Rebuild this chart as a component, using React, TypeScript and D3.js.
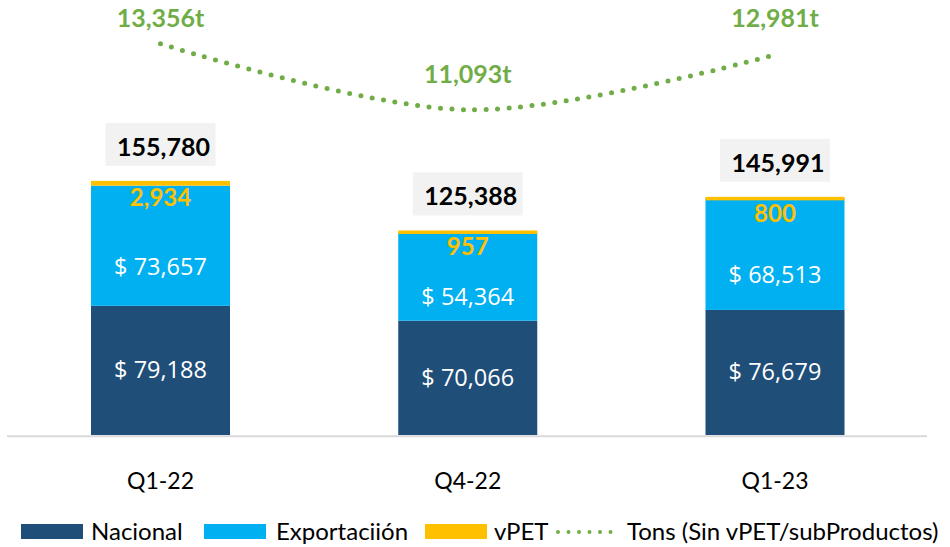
import React from "react";
import * as d3 from "d3";

const categories = ["Q1-22", "Q4-22", "Q1-23"];
const nacional = [79188, 70066, 76679];
const exportacion = [73657, 54364, 68513];
const vpet = [2934, 957, 800];
const totals = [155780, 125388, 145991];
const tons = [13356, 11093, 12981];
const tonsLabels = ["13,356t", "11,093t", "12,981t"];

const W = 950;
const H = 547;
const BASE = 435;
const BAR_W = 139;

const COLORS = {
  nacional: "#1f4e79",
  exportacion: "#00b0f0",
  vpet: "#ffc000",
  tons: "#70ad47",
  axis: "#d9d9d9",
  box: "#f2f2f2",
};

const CAL = "Lato, 'Open Sans', sans-serif";
const SEG = "'Open Sans', 'Noto Sans', sans-serif";

const fmt = d3.format(",");

export default function App() {
  const x = d3.scalePoint<string>().domain(categories).range([160.5, 775]);
  const y = d3.scaleLinear().domain([0, 160000]).range([BASE, 174]);
  const yT = d3.scaleLinear().domain([8000, 14000]).range([200, 25]);

  const line = d3
    .line<number>()
    .x((_, i) => x(categories[i]) as number)
    .y((d) => yT(d))
    .curve(d3.curveCatmullRom.alpha(0.5));

  const tonsDy = [-17, -27, -28];

  const legendItems = [
    { label: "Nacional", color: COLORS.nacional, sx: 21, tx: 91 },
    { label: "Exportaciión", color: COLORS.exportacion, sx: 204, tx: 276 },
    { label: "vPET", color: COLORS.vpet, sx: 425, tx: 494 },
  ];

  return (
    <svg
      width={W}
      height={H}
      style={{ position: "absolute", left: 0, top: 0, background: "#fff" }}
    >
      <rect x={0} y={0} width={W} height={H} fill="#fff" />
      <line x1={7} x2={927} y1={BASE + 1.3} y2={BASE + 1.3} stroke={COLORS.axis} strokeWidth={2} />

      {categories.map((c, i) => {
        const cx = x(c) as number;
        const x0 = cx - BAR_W / 2;
        const yN = y(nacional[i]);
        const yE = y(nacional[i] + exportacion[i]);
        const yV = y(nacional[i] + exportacion[i] + vpet[i]);
        const yTot = y(totals[i]);
        return (
          <g key={c}>
            <rect x={x0} y={yN} width={BAR_W} height={BASE - yN} fill={COLORS.nacional} />
            <rect x={x0} y={yE} width={BAR_W} height={yN - yE} fill={COLORS.exportacion} />
            <rect x={x0} y={yV} width={BAR_W} height={Math.max(yE - yV, 3.5)} fill={COLORS.vpet} />
            <text
              x={cx}
              y={(yN + BASE) / 2 + 8}
              textAnchor="middle"
              fill="#fff"
              fontFamily={SEG}
              fontSize={23.5}
            >
              {"$ " + fmt(nacional[i])}
            </text>
            <text
              x={cx}
              y={(yE + yN) / 2 + 21 + 8}
              textAnchor="middle"
              fill="#fff"
              fontFamily={SEG}
              fontSize={23.5}
            >
              {"$ " + fmt(exportacion[i])}
            </text>
            <text
              x={cx}
              y={yV + 25}
              textAnchor="middle"
              fill={COLORS.vpet}
              fontFamily={CAL}
              fontWeight={700}
              fontSize={24}
            >
              {fmt(vpet[i])}
            </text>
            <rect x={cx - 55} y={yTot - 15 - 43} width={110} height={43} fill={COLORS.box} />
            <text
              x={cx + 3}
              y={yTot - 15 - 10}
              textAnchor="middle"
              fill="#000"
              fontFamily={CAL}
              fontWeight={700}
              fontSize={25}
            >
              {fmt(totals[i])}
            </text>
            <text
              x={cx}
              y={489}
              textAnchor="middle"
              fill="#000"
              fontFamily={CAL}
              fontSize={23}
            >
              {c}
            </text>
          </g>
        );
      })}

      <path
        d={line(tons) || ""}
        fill="none"
        stroke={COLORS.tons}
        strokeWidth={5}
        strokeLinecap="round"
        strokeDasharray="0 11.5"
      />
      {tons.map((v, i) => (
        <text
          key={i}
          x={x(categories[i]) as number}
          y={yT(v) + tonsDy[i]}
          textAnchor="middle"
          fill={COLORS.tons}
          fontFamily={CAL}
          fontWeight={700}
          fontSize={25}
        >
          {tonsLabels[i]}
        </text>
      ))}

      {legendItems.map((it) => (
        <g key={it.label}>
          <rect x={it.sx} y={524} width={62} height={15} fill={it.color} />
          <text x={it.tx} y={540} fill="#000" fontFamily={CAL} fontSize={24}>
            {it.label}
          </text>
        </g>
      ))}
      <line
        x1={558}
        x2={620}
        y1={532}
        y2={532}
        stroke={COLORS.tons}
        strokeWidth={4}
        strokeLinecap="round"
        strokeDasharray="0 10.5"
      />
      <text x={627} y={540} fill="#000" fontFamily={CAL} fontSize={24}>
        Tons (Sin vPET/subProductos)
      </text>
    </svg>
  );
}
